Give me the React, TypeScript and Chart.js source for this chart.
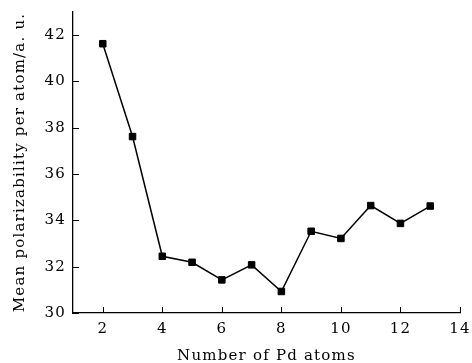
import React, { useEffect, useRef } from "react";
import { Chart, registerables } from "chart.js";

Chart.register(...registerables);

const atomCounts = [2, 3, 4, 5, 6, 7, 8, 9, 10, 11, 12, 13];
const polarizability = [41.63, 37.62, 32.45, 32.19, 31.43, 32.08, 30.93, 33.53, 33.22, 34.64, 33.87, 34.62];
const xTickValues = [2, 4, 6, 8, 10, 12, 14];
const yTickValues = [30, 32, 34, 36, 38, 40, 42];
const xTitle = "Number of Pd atoms";
const yTitle = "Mean polarizability per atom/a. u.";

const FONT = "'DejaVu Serif', serif";

const spacing = {
  id: "spacing",
  beforeDraw(chart: any) {
    chart.ctx.letterSpacing = "1.2px";
  },
};

const innerTicks = {
  id: "innerTicks",
  afterDraw(chart: any) {
    const ctx = chart.ctx;
    const xs = chart.scales.x;
    const ys = chart.scales.y;
    const area = chart.chartArea;
    ctx.save();
    ctx.strokeStyle = "#000";
    ctx.lineWidth = 1;
    ctx.beginPath();
    xs.ticks.forEach((t: any) => {
      const px = Math.round(xs.getPixelForValue(t.value)) + 0.5;
      ctx.moveTo(px, area.bottom);
      ctx.lineTo(px, area.bottom - 6);
    });
    ys.ticks.forEach((t: any) => {
      const py = Math.round(ys.getPixelForValue(t.value)) + 0.5;
      ctx.moveTo(area.left, py);
      ctx.lineTo(area.left + 6, py);
    });
    ctx.stroke();
    ctx.restore();
  },
};

export default function App() {
  const ref = useRef<HTMLCanvasElement>(null);
  useEffect(() => {
    document.body.style.margin = "0";
    const chart = new Chart(ref.current!, {
      type: "line",
      data: {
        datasets: [
          {
            data: atomCounts.map((x, i) => ({ x, y: polarizability[i] })),
            borderColor: "#000",
            borderWidth: 1.5,
            backgroundColor: "#000",
            pointStyle: "rect",
            pointRadius: 4.6,
            pointBorderWidth: 1,
            pointBorderColor: "#000",
            pointBackgroundColor: "#000",
            tension: 0,
          },
        ],
      },
      options: {
        animation: false,
        responsive: false,
        maintainAspectRatio: false,
        layout: { padding: { top: 12, right: 12, left: 11, bottom: 0 } },
        plugins: { legend: { display: false }, tooltip: { enabled: false } },
        scales: {
          x: {
            type: "linear",
            min: 1,
            max: 14,
            afterBuildTicks: (s: any) => {
              s.ticks = xTickValues.map((v) => ({ value: v }));
            },
            afterFit: (s: any) => {
              s.height = 50;
              s.paddingLeft = 0;
              s.paddingRight = 0;
            },
            grid: { display: true, drawOnChartArea: false, drawTicks: false },
            border: { display: true, color: "#000", width: 1.3 },
            ticks: { color: "#000", font: { family: FONT, size: 15 }, padding: 7 },
            title: {
              display: true,
              text: xTitle,
              color: "#000",
              font: { family: FONT, size: 15 },
              padding: { top: 0, bottom: -2 },
            },
          },
          y: {
            type: "linear",
            min: 30,
            max: 43,
            afterBuildTicks: (s: any) => {
              s.ticks = yTickValues.map((v) => ({ value: v }));
            },
            afterFit: (s: any) => {
              s.width = 62;
              s.paddingTop = 0;
              s.paddingBottom = 0;
            },
            grid: { display: true, drawOnChartArea: false, drawTicks: false },
            border: { display: true, color: "#000", width: 1.3 },
            ticks: { color: "#000", font: { family: FONT, size: 15 }, padding: 7 },
            title: {
              display: true,
              text: yTitle,
              color: "#000",
              font: { family: FONT, size: 15 },
              padding: { top: 0, bottom: 0 },
            },
          },
        },
      },
      plugins: [spacing, innerTicks],
    });
    return () => chart.destroy();
  }, []);
  return (
    <div style={{ width: 472, height: 363 }}>
      <canvas ref={ref} width={472} height={363} style={{ display: "block" }} />
    </div>
  );
}
